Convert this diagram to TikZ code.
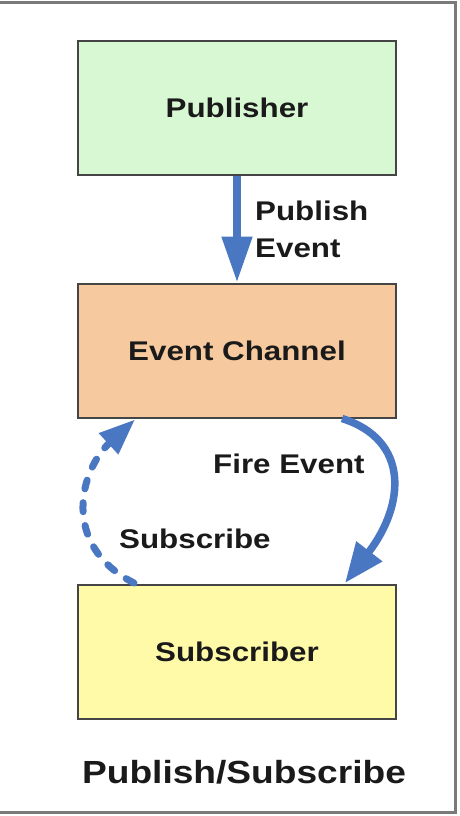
\documentclass[tikz,border=0pt]{standalone}
\usepackage{fontspec}
\setmainfont{Liberation Sans}
\usetikzlibrary{arrows.meta}
\definecolor{pubgreen}{HTML}{D8F8D4}
\definecolor{chanpeach}{HTML}{F6C99E}
\definecolor{subyellow}{HTML}{FFFAA8}
\definecolor{flowblue}{HTML}{4A77C1}
\definecolor{edgegray}{HTML}{454545}
\definecolor{framegray}{HTML}{7A7A7A}
\definecolor{ink}{HTML}{1A1A1A}
\newcommand{\widetext}[1]{\scalebox{1.16}[1]{#1}}
\tikzset{
  stage/.style={draw=edgegray, line width=2pt, minimum width=318pt,
    minimum height=134pt, inner sep=0pt, text=ink,
    font=\fontsize{27}{32}\selectfont\bfseries},
  lbl/.style={text=ink, inner sep=0pt, font=\fontsize{27}{32}\selectfont\bfseries},
  flow/.style={draw=flowblue, line width=7.5pt,
    -{Triangle[length=40pt,width=31pt]}},
  pubflow/.style={draw=flowblue, line width=8pt,
    -{Triangle[length=46pt,width=29pt]}},
  subflow/.style={draw=flowblue, line width=7pt, line cap=round,
    dash pattern=on 9pt off 14pt,
    -{Triangle[length=36pt,width=27pt]}}
}
\begin{document}
\begin{tikzpicture}[x=1pt,y=-1pt]
  \useasboundingbox (0,0) rectangle (460,816);
  \fill[white] (0,0) rectangle (460,816);
  % outer frame
  \draw[framegray, line width=3pt] (0,3) -- (455,3) -- (455,812) -- (0,812);

  % components
  \node[stage, fill=pubgreen]   (pub)  at (237,108)   {\widetext{Publisher}};
  \node[stage, fill=chanpeach]  (chan) at (237,350.5) {\widetext{Event Channel}};
  \node[stage, fill=subyellow]  (sub)  at (237,652)   {\widetext{Subscriber}};

  % publish
  \draw[pubflow] (pub.south) -- (chan.north);
  \node[lbl, anchor=base west] (publbl1) at (255,220) {\widetext{Publish}};
  \node[lbl, anchor=base west] (publbl2) at (255,257) {\widetext{Event}};

  % fire event
  \coordinate (fireA) at ([xshift=105pt]chan.south);
  \coordinate (fireB) at ([xshift=108pt,yshift=1pt]sub.north);
  \draw[flow] (fireA) .. controls (410,440) and (405,505) .. (fireB);
  \node[lbl, anchor=base west] (firelbl) at (213,473) {\widetext{Fire Event}};

  % subscribe
  \coordinate (subA) at ([xshift=-103pt,yshift=1pt]sub.north);
  \coordinate (subB) at ([xshift=-102pt,yshift=-1pt]chan.south);
  \draw[subflow] (subA) .. controls (60,545) and (80,470) .. (subB);
  \node[lbl, anchor=base west] (sublbl) at (119,548) {\widetext{Subscribe}};

  % caption
  \node[text=ink, inner sep=0pt, anchor=base,
    font=\fontsize{32}{38}\selectfont\bfseries] (title) at (244,783)
    {\widetext{Publish/Subscribe}};
\end{tikzpicture}
\end{document}
